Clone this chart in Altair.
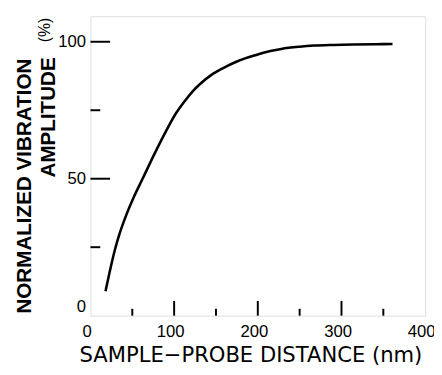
import altair as alt
import pandas as pd

# curve data
distance_nm = [18, 23, 29, 35, 43, 52, 62, 78, 90, 102, 113, 123, 131, 145,
               158, 175, 197, 215, 228, 250, 267, 290, 314, 340, 361]
amplitude_pct = [8.9, 16.0, 23.8, 30.1, 36.9, 43.4, 49.8, 60.0, 67.2, 73.8,
                 78.5, 82.2, 84.6, 88.0, 90.3, 92.8, 95.1, 96.6, 97.4, 98.2,
                 98.6, 98.85, 99.0, 99.1, 99.2]

x_major_ticks = [100, 200, 300]
x_minor_ticks = [50, 150, 250, 350]
y_major_ticks = [50, 100]
y_minor_ticks = [25, 75]
x_labels = [0, 100, 200, 300, 400]
y_labels = [0, 50, 100]

W, H = 341, 305

curve_df = pd.DataFrame({"d": distance_nm, "a": amplitude_pct})

xs = alt.Scale(domain=[0, 400], nice=False)
ys = alt.Scale(domain=[0, 109.3], nice=False)

base = alt.Chart(curve_df)

curve = base.mark_line(color="black", strokeWidth=2.6, interpolate="monotone").encode(
    x=alt.X("d:Q", scale=xs,
            axis=alt.Axis(values=x_labels, title="SAMPLE\u2212PROBE DISTANCE (nm)",
                          domain=False, ticks=False, grid=False,
                          labelFont="Liberation Sans", labelFontSize=17,
                          labelColor="black", labelPadding=8, labelFlush=False,
                          labelOffset=-4,
                          titleFont="DejaVu Sans", titleFontSize=21.5,
                          titleFontWeight="normal", titleColor="black",
                          titleX=163, titleY=47, titleBaseline="alphabetic",
                          titleAlign="center")),
    y=alt.Y("a:Q", scale=ys,
            axis=alt.Axis(values=y_labels, title=None,
                          domain=False, ticks=False, grid=False,
                          labelFont="Liberation Sans", labelFontSize=17,
                          labelColor="black", labelPadding=5, labelFlush=True,
                          labelFlushOffset=0)),
)

xmaj = alt.Chart(pd.DataFrame({"v": x_major_ticks})).mark_rule(
    color="black", strokeWidth=2).encode(
    x=alt.X("v:Q", scale=xs), y=alt.value(H), y2=alt.value(H - 15))
xmin = alt.Chart(pd.DataFrame({"v": x_minor_ticks})).mark_rule(
    color="black", strokeWidth=2).encode(
    x=alt.X("v:Q", scale=xs), y=alt.value(H), y2=alt.value(H - 7))
ymaj = alt.Chart(pd.DataFrame({"v": y_major_ticks})).mark_rule(
    color="black", strokeWidth=2).encode(
    y=alt.Y("v:Q", scale=ys), x=alt.value(0), x2=alt.value(20))
ymin = alt.Chart(pd.DataFrame({"v": y_minor_ticks})).mark_rule(
    color="black", strokeWidth=2).encode(
    y=alt.Y("v:Q", scale=ys), x=alt.value(0), x2=alt.value(10))

t1 = alt.Chart(pd.DataFrame({"t": ["NORMALIZED VIBRATION"]})).mark_text(
    angle=270, font="Liberation Sans", fontSize=21, fontWeight="bold",
    align="center", baseline="middle", color="black").encode(
    text="t:N", x=alt.value(-67), y=alt.value(173))
t2 = alt.Chart(pd.DataFrame({"t": ["AMPLITUDE"]})).mark_text(
    angle=270, font="Liberation Sans", fontSize=21, fontWeight="bold",
    align="center", baseline="middle", color="black").encode(
    text="t:N", x=alt.value(-42.5), y=alt.value(103))
t3 = alt.Chart(pd.DataFrame({"t": ["(%)"]})).mark_text(
    angle=270, font="Liberation Sans", fontSize=16, fontWeight="normal",
    align="center", baseline="middle", color="black").encode(
    text="t:N", x=alt.value(-46), y=alt.value(14))

chart = alt.layer(curve, xmaj, xmin, ymaj, ymin, t1, t2, t3).properties(
    width=W, height=H,
    autosize="none",
    padding={"left": 84, "top": 5, "right": 9, "bottom": 57},
).configure_view(stroke="black", strokeWidth=2).configure(background="white")

chart.save("out.html", embed_options={"renderer": "svg", "actions": False})
